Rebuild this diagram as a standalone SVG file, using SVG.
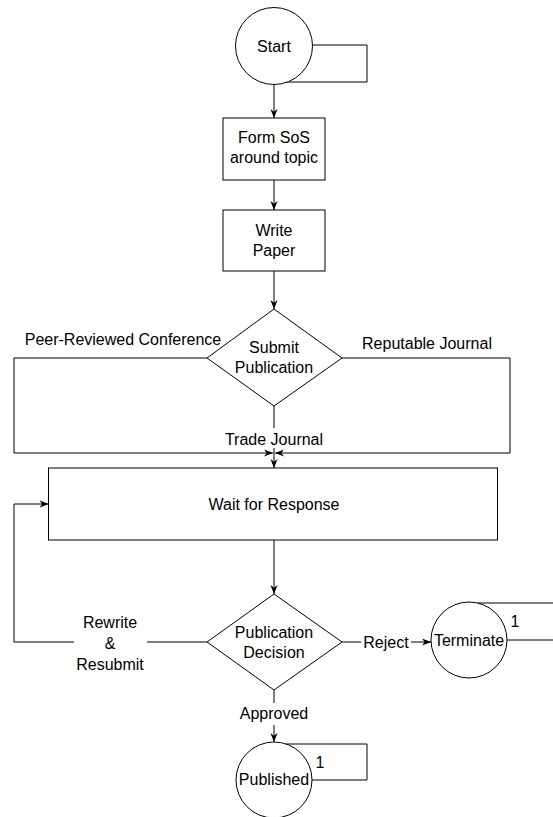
<svg xmlns="http://www.w3.org/2000/svg" width="553" height="817" viewBox="0 0 553 817">
<defs>
<style>
.s{fill:#fff;stroke:#000;stroke-width:1}
.c{fill:none;stroke:#000;stroke-width:1}
.t{font-family:"Liberation Sans",Arial,sans-serif;font-size:16px;fill:#000;text-anchor:middle}
.bg{fill:#fff;stroke:none}
</style>
<marker id="a" viewBox="0 0 10 10" refX="10" refY="5" markerWidth="9" markerHeight="9" markerUnits="userSpaceOnUse" orient="auto">
<path d="M0,1 L10,5 L0,9 L3,5 z" fill="#000"/>
</marker>
</defs>
<rect width="553" height="817" fill="#fff"/>
<g id="connectors">
<path class="c" d="M312.5,45 H367 V82 H286"/>
<path class="c" d="M274,84.5 V118" marker-end="url(#a)"/>
<path class="c" d="M274,180 V210" marker-end="url(#a)"/>
<path class="c" d="M274,271 V309" marker-end="url(#a)"/>
<path class="c" d="M207,358 H14 V453 H273" marker-end="url(#a)"/>
<path class="c" d="M342,358 H510 V453 H275" marker-end="url(#a)"/>
<path class="c" d="M274,406 V468" marker-end="url(#a)"/>
<rect class="bg" x="224" y="428" width="100" height="20"/>
<text class="t" x="274" y="445">Trade Journal</text>
<text class="t" x="123" y="345">Peer-Reviewed Conference</text>
<text class="t" x="427" y="349">Reputable Journal</text>
<path class="c" d="M274,540 V594" marker-end="url(#a)"/>
<path class="c" d="M207,642 H14 V504 H48.5" marker-end="url(#a)"/>
<rect class="bg" x="74" y="612" width="73" height="64"/>
<text class="t" x="110" y="628">Rewrite</text>
<text class="t" x="110" y="649">&amp;</text>
<text class="t" x="110" y="670">Resubmit</text>
<path class="c" d="M342,642 H431" marker-end="url(#a)"/>
<rect class="bg" x="361" y="632" width="50" height="20"/>
<text class="t" x="386" y="647.5">Reject</text>
<path class="c" d="M274,690 V742" marker-end="url(#a)"/>
<rect class="bg" x="238" y="703" width="72" height="22"/>
<text class="t" x="274" y="719">Approved</text>
<path class="c" d="M506.5,640 H570 V603 H477"/>
<text class="t" x="515" y="627">1</text>
<path class="c" d="M311.5,780 H367 V744 H286"/>
<text class="t" x="320" y="768">1</text>
</g>
<g id="start">
<circle class="s" cx="274" cy="46" r="38.5"/>
<text class="t" x="274" y="52">Start</text>
</g>
<g id="form-sos">
<rect class="s" x="223" y="118" width="102" height="62"/>
<text class="t" x="274" y="143">Form SoS</text>
<text class="t" x="274" y="163">around topic</text>
</g>
<g id="write-paper">
<rect class="s" x="223" y="210" width="102" height="61"/>
<text class="t" x="274" y="236">Write</text>
<text class="t" x="274" y="256">Paper</text>
</g>
<g id="submit-publication">
<polygon class="s" points="274,309 342,358 274,406 207,358"/>
<text class="t" x="274" y="353">Submit</text>
<text class="t" x="274" y="373">Publication</text>
</g>
<g id="wait-for-response">
<rect class="s" x="48.5" y="468" width="449" height="72"/>
<text class="t" x="274" y="510">Wait for Response</text>
</g>
<g id="publication-decision">
<polygon class="s" points="274,594 342,642 274,690 207,642"/>
<text class="t" x="274" y="638">Publication</text>
<text class="t" x="274" y="658">Decision</text>
</g>
<g id="terminate">
<circle class="s" cx="469" cy="640" r="38"/>
<text class="t" x="469" y="646">Terminate</text>
</g>
<g id="published">
<circle class="s" cx="274" cy="780" r="38"/>
<text class="t" x="274" y="785">Published</text>
</g>
</svg>
